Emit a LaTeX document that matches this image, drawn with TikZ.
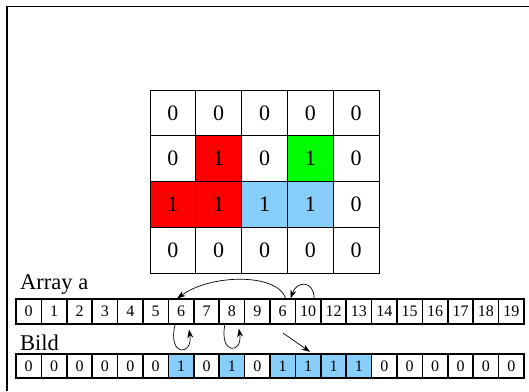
\documentclass[tikz,border=0pt]{standalone}
\usepackage{fontspec}
\setmainfont{Liberation Serif}
\usetikzlibrary{arrows.meta}
\definecolor{lblue}{RGB}{135,206,250}
\begin{document}
\begin{tikzpicture}[x=1pt,y=-1pt,
  gcell/.style={draw, line width=0.9pt, minimum width=45.8pt, minimum height=45.8pt, inner sep=0pt, font=\fontsize{22}{24}\selectfont},
  acell/.style={draw, line width=1.7pt, minimum width=25.4pt, minimum height=24.5pt, inner sep=0pt, font=\fontsize{16}{18}\selectfont},
  lbl/.style={inner sep=0pt, anchor=base west, font=\fontsize{22.5}{24}\selectfont},
  arr/.style={-{Stealth[length=8.5pt,width=6pt]}, line width=0.7pt}]
\useasboundingbox (0,0) rectangle (529,391);
\draw[line width=1.3pt] (7,391) -- (7,6.5) -- (529,6.5);
% grid
\foreach \r/\c/\v/\f in {
  0/0/0/white,0/1/0/white,0/2/0/white,0/3/0/white,0/4/0/white,
  1/0/0/white,1/1/1/red,1/2/0/white,1/3/1/green,1/4/0/white,
  2/0/1/red,2/1/1/red,2/2/1/lblue,2/3/1/lblue,2/4/0/white,
  3/0/0/white,3/1/0/white,3/2/0/white,3/3/0/white,3/4/0/white}
  \node[gcell, fill=\f] (g-\r-\c) at ({172.9+45.8*\c},{112.9+45.8*\r}) {\v};
% labels
\node[lbl] (la) at (20,289) {Array a};
\node[lbl] (lb) at (20,350.5) {Bild};
% array a
\foreach \v [count=\i from 0] in {0,1,2,3,4,5,6,7,8,9,6,10,12,13,14,15,16,17,18,19}
  \node[acell] (a-\i) at ({28.7+25.4*\i},311.5) {\v};
% bild
\foreach \v/\f [count=\i from 0] in {0/white,0/white,0/white,0/white,0/white,0/white,1/lblue,0/white,1/lblue,0/white,1/lblue,1/lblue,1/lblue,1/lblue,0/white,0/white,0/white,0/white,0/white,0/white}
  \node[acell, fill=\f] (b-\i) at ({28.7+25.4*\i},366) {\v};
% arrows
\draw[arr] ([xshift=3pt]a-10.north) .. controls +(-8,-25) and +(35,-25) .. ([xshift=-4pt]a-6.north);
\draw[arr] ([xshift=6pt]a-11.north) .. controls +(0,-18) and +(6,-18) .. ([xshift=8pt]a-10.north);
\draw[arr] ([xshift=-6pt]a-6.south) .. controls +(-8,32) and +(4,27) .. ([xshift=8pt,yshift=-5pt]a-6.south);
\draw[arr] ([xshift=-7pt]a-8.south) .. controls +(-6,30) and +(4,26) .. ([xshift=7pt,yshift=-4pt]a-8.south);
\coordinate (s5) at (283,333);
\draw[arr] (s5) -- ([xshift=2pt,yshift=1pt]b-11.north);
\end{tikzpicture}
\end{document}
